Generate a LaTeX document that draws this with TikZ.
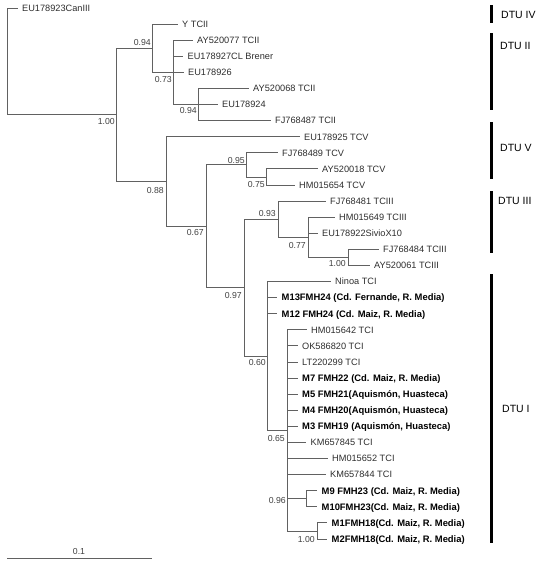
\documentclass[tikz,border=0pt]{standalone}
\usepackage{fontspec}
\setmainfont{Liberation Sans}

\begin{document}
\begin{tikzpicture}[x=1pt,y=-1pt,
  branch/.style={draw=black!62,line width=0.9pt},
  leaf/.style={anchor=west,inner xsep=4.5pt,inner ysep=0pt,text height=6.6pt,text depth=0pt,text=black!82,font=\fontsize{9.2}{11}\selectfont},
  ourleaf/.style={leaf,text=black,font=\fontsize{9.4}{11}\selectfont\bfseries},
  bootval/.style={anchor=east,inner sep=0pt,text depth=0pt,text=black!75,font=\fontsize{8.7}{10}\selectfont},
  dtubar/.style={line width=2.6pt,black},
  dtulabel/.style={anchor=west,inner sep=0pt,font=\fontsize{10.5}{12}\selectfont}]
\useasboundingbox (0,0) rectangle (550,565);

% internal nodes of the tree
\coordinate (root) at (7,61.4);
\coordinate (nA) at (116,114.9);
\coordinate (nTCII) at (152,48.2);
\coordinate (n073) at (173,72.35);
\coordinate (n094) at (198,104.5);
\coordinate (nB) at (166,181.5);
\coordinate (nC) at (206,226.3);
\coordinate (n095) at (246,164.9);
\coordinate (n075) at (266,177.0);
\coordinate (nD) at (244,287.6);
\coordinate (nE) at (278,219.2);
\coordinate (nF) at (308,237.3);
\coordinate (n100) at (348,257.4);
\coordinate (nG) at (267,356.0);
\coordinate (nH) at (287,430.4);
\coordinate (nI) at (306,498.8);
\coordinate (nJ) at (317,531.0);

% tips
\node[leaf] (eu923) at (17.5,8.0) {EU178923CanIII};
\node[leaf] (ytcii) at (177.5,24.1) {Y TCII};
\node[leaf] (ay077) at (192.5,40.2) {AY520077 TCII};
\node[leaf] (eu927) at (183,56.3) {EU178927CL Brener};
\node[leaf] (eu926) at (183.5,72.4) {EU178926};
\node[leaf] (ay068) at (248.5,88.5) {AY520068 TCII};
\node[leaf] (eu924) at (217.5,104.5) {EU178924};
\node[leaf] (fj487) at (270.5,120.6) {FJ768487 TCII};
\node[leaf] (eu925) at (299.5,136.7) {EU178925 TCV};
\node[leaf] (fj489) at (277.5,152.8) {FJ768489 TCV};
\node[leaf] (ay018) at (317.5,168.9) {AY520018 TCV};
\node[leaf] (hm654) at (294.5,185.0) {HM015654 TCV};
\node[leaf] (fj481) at (325.5,201.1) {FJ768481 TCIII};
\node[leaf] (hm649) at (334.5,217.2) {HM015649 TCIII};
\node[leaf] (eu922) at (317.5,233.3) {EU178922SivioX10};
\node[leaf] (fj484) at (378.5,249.4) {FJ768484 TCIII};
\node[leaf] (ay061) at (369.5,265.4) {AY520061 TCIII};
\node[leaf] (ninoa) at (330.5,281.5) {Ninoa TCI};
\node[ourleaf] (m13) at (277,297.6) {M13FMH24 (Cd. Fernande, R. Media)};
\node[ourleaf] (m12) at (277,313.7) {M12 FMH24 (Cd. Maiz, R. Media)};
\node[leaf] (hm642) at (306.5,329.8) {HM015642 TCI};
\node[leaf] (ok820) at (297.5,345.9) {OK586820 TCI};
\node[leaf] (lt299) at (297.5,362.0) {LT220299 TCI};
\node[ourleaf] (m7) at (297.5,378.1) {M7 FMH22 (Cd. Maiz, R. Media)};
\node[ourleaf] (m5) at (297.5,394.2) {M5 FMH21(Aquismón, Huasteca)};
\node[ourleaf] (m4) at (297.5,410.3) {M4 FMH20(Aquismón, Huasteca)};
\node[ourleaf] (m3) at (297.5,426.3) {M3 FMH19 (Aquismón, Huasteca)};
\node[leaf] (km845) at (306,442.4) {KM657845 TCI};
\node[leaf] (hm652) at (327.5,458.5) {HM015652 TCI};
\node[leaf] (km844) at (325.5,474.6) {KM657844 TCI};
\node[ourleaf] (m9) at (317,490.7) {M9 FMH23 (Cd. Maiz, R. Media)};
\node[ourleaf] (m10) at (317,506.8) {M10FMH23(Cd. Maiz, R. Media)};
\node[ourleaf] (m1) at (327,522.9) {M1FMH18(Cd. Maiz, R. Media)};
\node[ourleaf] (m2) at (327,539.0) {M2FMH18(Cd. Maiz, R. Media)};

% branches
\draw[branch] (root) |- (eu923.west);
\draw[branch] (root) |- (nA);
\draw[branch] (nA) |- (nTCII);
\draw[branch] (nA) |- (nB);
\draw[branch] (nTCII) |- (ytcii.west);
\draw[branch] (nTCII) |- (n073);
\draw[branch] (n073) |- (ay077.west);
\draw[branch] (n073) |- (eu927.west);
\draw[branch] (n073) |- (eu926.west);
\draw[branch] (n073) |- (n094);
\draw[branch] (n094) |- (ay068.west);
\draw[branch] (n094) |- (eu924.west);
\draw[branch] (n094) |- (fj487.west);
\draw[branch] (nB) |- (eu925.west);
\draw[branch] (nB) |- (nC);
\draw[branch] (nC) |- (n095);
\draw[branch] (nC) |- (nD);
\draw[branch] (n095) |- (fj489.west);
\draw[branch] (n095) |- (n075);
\draw[branch] (n075) |- (ay018.west);
\draw[branch] (n075) |- (hm654.west);
\draw[branch] (nD) |- (nE);
\draw[branch] (nD) |- (nG);
\draw[branch] (nE) |- (fj481.west);
\draw[branch] (nE) |- (nF);
\draw[branch] (nF) |- (hm649.west);
\draw[branch] (nF) |- (eu922.west);
\draw[branch] (nF) |- (n100);
\draw[branch] (n100) |- (fj484.west);
\draw[branch] (n100) |- (ay061.west);
\draw[branch] (nG) |- (ninoa.west);
\draw[branch] (nG) |- (m13.west);
\draw[branch] (nG) |- (m12.west);
\draw[branch] (nG) |- (nH);
\foreach \t in {hm642,ok820,lt299,m7,m5,m4,m3,km845,hm652,km844}
  \draw[branch] (nH) |- (\t.west);
\draw[branch] (nH) |- (nI);
\draw[branch] (nH) |- (nJ);
\draw[branch] (nI) |- (m9.west);
\draw[branch] (nI) |- (m10.west);
\draw[branch] (nJ) |- (m1.west);
\draw[branch] (nJ) |- (m2.west);

% support values
\node[bootval] (bA) at (115,121) {1.00};
\node[bootval] (bTCII) at (151,42) {0.94};
\node[bootval] (b073) at (172,79) {0.73};
\node[bootval] (b094) at (197,110) {0.94};
\node[bootval] (bB) at (164,190) {0.88};
\node[bootval] (bC) at (204,232) {0.67};
\node[bootval] (b095) at (245,160) {0.95};
\node[bootval] (b075) at (265,184) {0.75};
\node[bootval] (bD) at (242,295) {0.97};
\node[bootval] (bE) at (276,213) {0.93};
\node[bootval] (bF) at (306,245) {0.77};
\node[bootval] (b100) at (346,263) {1.00};
\node[bootval] (bG) at (266,362) {0.60};
\node[bootval] (bH) at (285,438) {0.65};
\node[bootval] (bI) at (286,500) {0.96};
\node[bootval] (bJ) at (315,539) {1.00};

% DTU brackets
\foreach \ya/\yb in {5/23,33/110,122/179,191/253,274/543}
  \draw[dtubar] (491.5,\ya) -- (491.5,\yb);
\node[dtulabel] (dtu4) at (501,15) {DTU IV};
\node[dtulabel] (dtu2) at (500,46) {DTU II};
\node[dtulabel] (dtu5) at (500,148) {DTU V};
\node[dtulabel] (dtu3) at (498,201) {DTU III};
\node[dtulabel] (dtu1) at (502,409) {DTU I};

% scale bar
\draw[branch] (7,558) -- (152,558);
\node[bootval,anchor=center] (scale) at (79,551) {0.1};
\end{tikzpicture}
\end{document}
